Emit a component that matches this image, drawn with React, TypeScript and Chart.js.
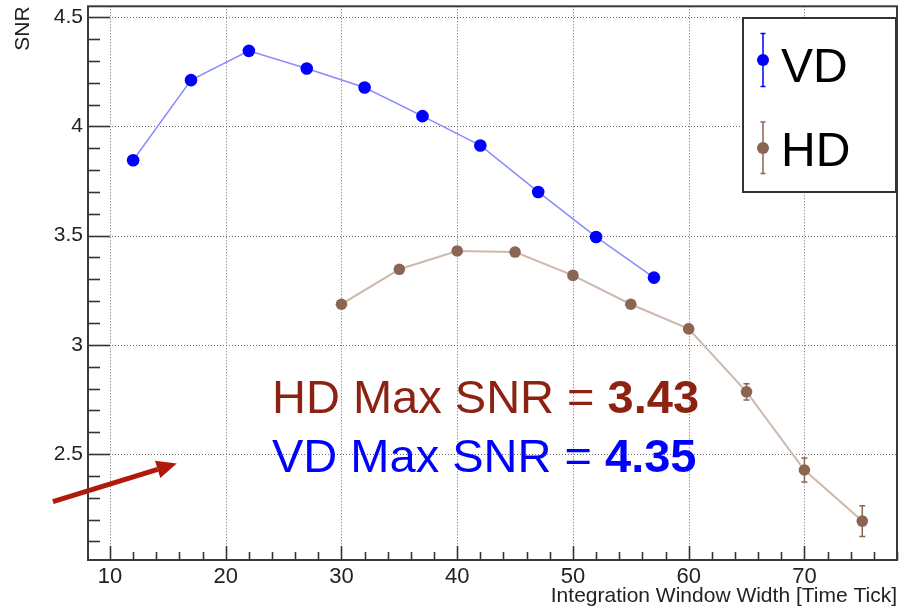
import React, { useEffect, useRef } from 'react';
import { Chart, registerables } from 'chart.js';
Chart.register(...registerables);

// ---- data ----
const vdWidth = [12, 17, 22, 27, 32, 37, 42, 47, 52, 57];
const vdSNR = [3.845, 4.212, 4.346, 4.265, 4.178, 4.047, 3.913, 3.7, 3.494, 3.308];
const vdErr = [0.01, 0.01, 0.01, 0.01, 0.01, 0.01, 0.01, 0.01, 0.01, 0.01];
const hdWidth = [30, 35, 40, 45, 50, 55, 60, 65, 70, 75];
const hdSNR = [3.186, 3.346, 3.43, 3.425, 3.318, 3.186, 3.073, 2.785, 2.427, 2.193];
const hdErr = [0.012, 0.012, 0.012, 0.012, 0.012, 0.015, 0.02, 0.037, 0.055, 0.07];
const xTicks = [10, 20, 30, 40, 50, 60, 70];
const yTicks = [2.5, 3, 3.5, 4, 4.5];
const xRange = [8.1, 78];
const yRange = [2.015, 4.55];
const seriesLabels = ['VD', 'HD'];
const noteLines = [
  { prefix: 'HD Max SNR = ', value: '3.43' },
  { prefix: 'VD Max SNR = ', value: '4.35' },
];
const xTitle = 'Integration Window Width [Time Tick]';
const yTitle = 'SNR';

// ---- styles / placement ----
const FONT = '"Liberation Sans", Arial, Helvetica, sans-serif';
const VD_MARK = '#0000ff';
const VD_LINE = '#8a8aff';
const HD_MARK = '#8a6552';
const HD_LINE = '#cdb9ae';
const NOTE_COLORS = ['#8c2212', '#0000ff'];
const NOTE_POS = [{ x: 24, y: 2.688 }, { x: 24, y: 2.419 }];
const ARROW = { from: { x: 5.07, y: 2.282 }, to: { x: 15.77, y: 2.457 } };

const errorBars = [vdErr, hdErr];

const axisPlugin = {
  id: 'rootAxes',
  beforeDatasetsDraw(chart: any) {
    const { ctx, chartArea: a, scales } = chart;
    const x = scales.x, y = scales.y;
    ctx.save();
    // dotted grid
    ctx.strokeStyle = '#6a6a6a';
    ctx.lineWidth = 1;
    ctx.setLineDash([1, 2]);
    xTicks.forEach((v) => {
      const px = Math.round(x.getPixelForValue(v)) + 0.5;
      ctx.beginPath(); ctx.moveTo(px, a.top); ctx.lineTo(px, a.bottom); ctx.stroke();
    });
    yTicks.forEach((v) => {
      const py = Math.round(y.getPixelForValue(v)) + 0.5;
      ctx.beginPath(); ctx.moveTo(a.left, py); ctx.lineTo(a.right, py); ctx.stroke();
    });
    ctx.setLineDash([]);
    // inward ticks
    ctx.strokeStyle = '#333';
    ctx.lineWidth = 1.6;
    for (let k = Math.ceil(x.min / 2); k * 2 <= x.max; k++) {
      const v = k * 2;
      const major = v % 10 === 0;
      const px = Math.round(x.getPixelForValue(v)) + 0.5;
      ctx.beginPath(); ctx.moveTo(px, a.bottom); ctx.lineTo(px, a.bottom - (major ? 14 : 8)); ctx.stroke();
    }
    for (let k = Math.ceil(y.min * 10); k <= Math.floor(y.max * 10); k++) {
      const major = k % 5 === 0;
      const py = Math.round(y.getPixelForValue(k / 10)) + 0.5;
      ctx.beginPath(); ctx.moveTo(a.left, py); ctx.lineTo(a.left + (major ? 22 : 12), py); ctx.stroke();
    }
    // frame
    ctx.lineWidth = 2;
    ctx.strokeStyle = '#3a3a3a';
    ctx.strokeRect(a.left, a.top, a.right - a.left, a.bottom - a.top);
    // error bars
    chart.data.datasets.forEach((ds: any, i: number) => {
      const errs = errorBars[i];
      ctx.strokeStyle = ds.pointBackgroundColor;
      ctx.lineWidth = 1.5;
      ds.data.forEach((p: any, j: number) => {
        const px = x.getPixelForValue(p.x);
        const y1 = y.getPixelForValue(p.y + errs[j]);
        const y2 = y.getPixelForValue(p.y - errs[j]);
        ctx.beginPath();
        ctx.moveTo(px, y1); ctx.lineTo(px, y2);
        ctx.moveTo(px - 3, y1); ctx.lineTo(px + 3, y1);
        ctx.moveTo(px - 3, y2); ctx.lineTo(px + 3, y2);
        ctx.stroke();
      });
    });
    ctx.restore();
  },
  afterDraw(chart: any) {
    const { ctx, scales } = chart;
    const x = scales.x, y = scales.y;
    ctx.save();
    // annotation text
    noteLines.forEach((n, i) => {
      const px = x.getPixelForValue(NOTE_POS[i].x);
      const py = y.getPixelForValue(NOTE_POS[i].y);
      ctx.fillStyle = NOTE_COLORS[i];
      ctx.textBaseline = 'alphabetic';
      ctx.textAlign = 'left';
      ctx.font = `47px ${FONT}`;
      ctx.fillText(n.prefix, px, py);
      const w = ctx.measureText(n.prefix).width;
      ctx.font = `bold 47px ${FONT}`;
      ctx.fillText(n.value, px + w, py);
    });
    // arrow
    const tx = x.getPixelForValue(ARROW.from.x), ty = y.getPixelForValue(ARROW.from.y);
    const hx = x.getPixelForValue(ARROW.to.x), hy = y.getPixelForValue(ARROW.to.y);
    const ang = Math.atan2(hy - ty, hx - tx);
    const hl = 20, hw = 9;
    const bx = hx - hl * Math.cos(ang), by = hy - hl * Math.sin(ang);
    ctx.strokeStyle = '#b01a0a';
    ctx.fillStyle = '#b01a0a';
    ctx.lineWidth = 5;
    ctx.beginPath(); ctx.moveTo(tx, ty); ctx.lineTo(bx, by); ctx.stroke();
    ctx.beginPath();
    ctx.moveTo(hx, hy);
    ctx.lineTo(bx + hw * Math.sin(ang), by - hw * Math.cos(ang));
    ctx.lineTo(bx - hw * Math.sin(ang), by + hw * Math.cos(ang));
    ctx.closePath(); ctx.fill();
    // legend box
    const L = { left: 743, top: 18, right: 896, bottom: 192 };
    ctx.fillStyle = '#ffffff';
    ctx.fillRect(L.left, L.top, L.right - L.left, L.bottom - L.top);
    ctx.strokeStyle = '#333';
    ctx.lineWidth = 2;
    ctx.strokeRect(L.left, L.top, L.right - L.left, L.bottom - L.top);
    const rows = [
      { cy: 60, top: 33.5, bot: 86.5, base: 82 },
      { cy: 148, top: 122, bot: 173.5, base: 166 },
    ];
    chart.data.datasets.forEach((ds: any, i: number) => {
      const r = rows[i];
      const mx = 763;
      ctx.strokeStyle = ds.pointBackgroundColor;
      ctx.lineWidth = 1.5;
      ctx.beginPath();
      ctx.moveTo(mx, r.top); ctx.lineTo(mx, r.bot);
      ctx.moveTo(mx - 2.5, r.top); ctx.lineTo(mx + 2.5, r.top);
      ctx.moveTo(mx - 2.5, r.bot); ctx.lineTo(mx + 2.5, r.bot);
      ctx.stroke();
      ctx.fillStyle = ds.pointBackgroundColor;
      ctx.beginPath(); ctx.arc(mx, r.cy, 6, 0, Math.PI * 2); ctx.fill();
      ctx.fillStyle = '#000';
      ctx.font = `48px ${FONT}`;
      ctx.textAlign = 'left';
      ctx.textBaseline = 'alphabetic';
      ctx.fillText(ds.label, 781, r.base);
    });
    ctx.restore();
  },
};

export default function App() {
  const ref = useRef<HTMLCanvasElement>(null);
  useEffect(() => {
    document.body.style.margin = '0';
    const chart = new Chart(ref.current!, {
      type: 'line',
      data: {
        datasets: [
          {
            label: seriesLabels[0],
            data: vdWidth.map((w, i) => ({ x: w, y: vdSNR[i] })),
            borderColor: VD_LINE,
            borderWidth: 1.5,
            pointBackgroundColor: VD_MARK,
            pointBorderColor: VD_MARK,
            pointBorderWidth: 0,
            pointRadius: 6.3,
            tension: 0,
          },
          {
            label: seriesLabels[1],
            data: hdWidth.map((w, i) => ({ x: w, y: hdSNR[i] })),
            borderColor: HD_LINE,
            borderWidth: 2,
            pointBackgroundColor: HD_MARK,
            pointBorderColor: HD_MARK,
            pointBorderWidth: 0,
            pointRadius: 5.8,
            tension: 0,
          },
        ],
      },
      options: {
        animation: false,
        responsive: false,
        events: [],
        layout: { padding: { left: 0, top: 6, right: 10, bottom: 0 } },
        plugins: { legend: { display: false }, tooltip: { enabled: false } },
        scales: {
          x: {
            type: 'linear',
            min: xRange[0],
            max: xRange[1],
            grid: { display: false, drawTicks: false },
            border: { display: false },
            afterBuildTicks: (s: any) => { s.ticks = xTicks.map((v) => ({ value: v })); },
            afterFit: (s: any) => { s.height = 51; s.paddingLeft = 0; s.paddingRight = 0; },
            ticks: { color: '#222', font: { family: FONT, size: 22 }, padding: 4, maxRotation: 0, callback: (v: any) => String(v) },
            title: { display: true, text: xTitle, align: 'end', color: '#222', font: { family: FONT, size: 21 }, padding: { top: 0, bottom: 2 } },
          },
          y: {
            type: 'linear',
            min: yRange[0],
            max: yRange[1],
            grid: { display: false, drawTicks: false },
            border: { display: false },
            afterBuildTicks: (s: any) => { s.ticks = yTicks.map((v) => ({ value: v })); },
            afterFit: (s: any) => { s.width = 88; s.paddingTop = 0; s.paddingBottom = 0; },
            ticks: { color: '#222', font: { family: FONT, size: 21 }, padding: 5, callback: (v: any) => String(v) },
            title: { display: true, text: yTitle, align: 'end', color: '#222', font: { family: FONT, size: 21 }, padding: { top: 11, bottom: 0 } },
          },
        },
      },
      plugins: [axisPlugin],
    } as any);
    return () => chart.destroy();
  }, []);
  return (
    <div style={{ position: 'absolute', left: 0, top: 0, width: 907, height: 611, background: '#fff' }}>
      <canvas ref={ref} width={907} height={611} style={{ display: 'block' }} />
    </div>
  );
}
